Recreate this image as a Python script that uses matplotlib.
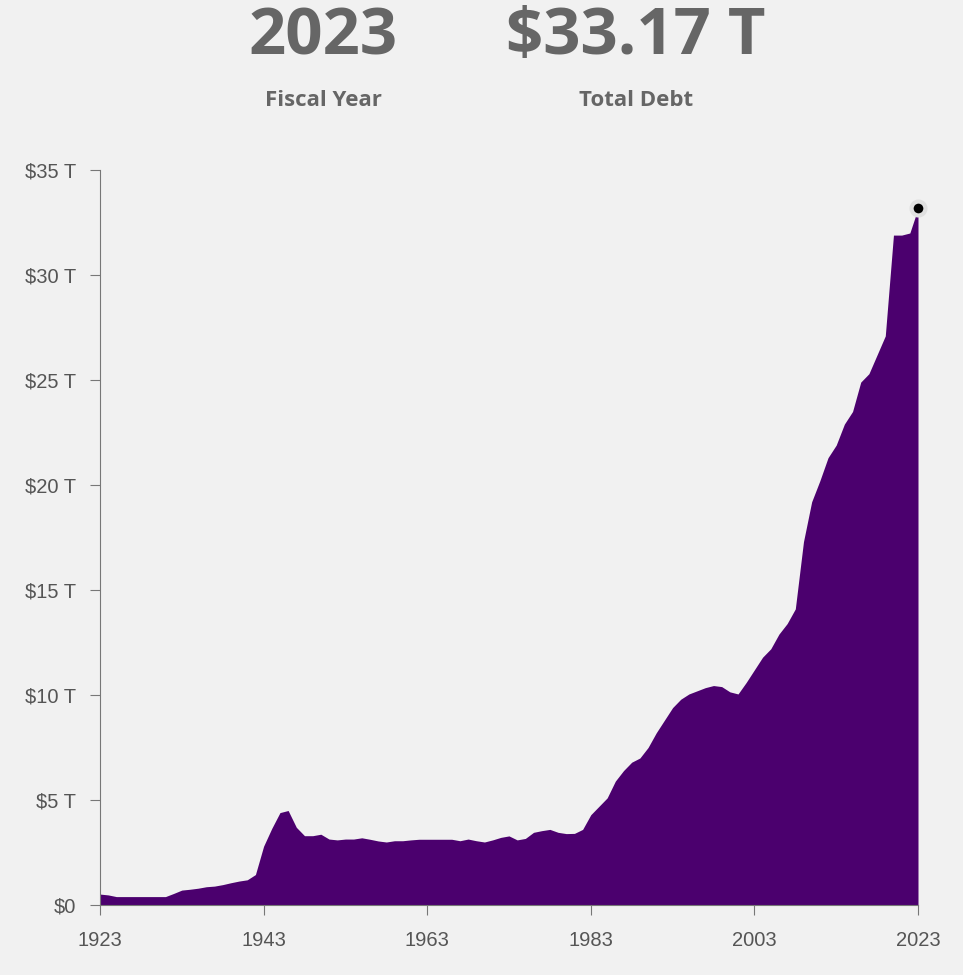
import matplotlib
matplotlib.use("Agg")
import matplotlib.pyplot as plt
import numpy as np

# Total debt by fiscal year, trillions of dollars
years = np.arange(1923, 2024)
debt = [
    0.52, 0.48, 0.40, 0.40, 0.40, 0.40, 0.40, 0.40, 0.40, 0.55,   # 1923-1932
    0.71, 0.75, 0.80, 0.87, 0.90, 0.97, 1.06, 1.14, 1.20, 1.45,   # 1933-1942
    2.80, 3.65, 4.40, 4.50, 3.70, 3.30, 3.30, 3.37, 3.14, 3.10,   # 1943-1952
    3.14, 3.14, 3.20, 3.13, 3.05, 3.00, 3.06, 3.06, 3.10, 3.13,   # 1953-1962
    3.13, 3.13, 3.13, 3.13, 3.06, 3.14, 3.06, 3.00, 3.10, 3.22,   # 1963-1972
    3.29, 3.10, 3.17, 3.46, 3.54, 3.60, 3.46, 3.40, 3.41, 3.60,   # 1973-1982
    4.30, 4.70, 5.10, 5.90, 6.40, 6.80, 7.00, 7.50, 8.20, 8.80,   # 1983-1992
    9.40, 9.80, 10.05, 10.20, 10.35, 10.45, 10.40, 10.15, 10.05, 10.60,  # 1993-2002
    11.20, 11.80, 12.20, 12.90, 13.40, 14.10, 17.30, 19.20, 20.20, 21.30,  # 2003-2012
    21.90, 22.90, 23.50, 24.90, 25.30, 26.20, 27.10, 31.90, 31.90, 32.00,  # 2013-2022
    33.17,                                                        # 2023
]
x_ticks = [1923, 1943, 1963, 1983, 2003, 2023]
y_ticks = [0, 5, 10, 15, 20, 25, 30, 35]
y_labels = ["$0"] + [f"${v} T" for v in y_ticks[1:]]

BG = "#f1f1f1"
FILL = "#4b006e"
HEAD = "#666666"
AXIS = "#777777"

fig = plt.figure(figsize=(9.63, 9.75), dpi=100, facecolor=BG)
ax = fig.add_axes([100 / 963, 70 / 975, 818 / 963, 735 / 975])
ax.set_facecolor(BG)

ax.fill_between(years, 0, debt, color=FILL, lw=0)
ax.plot(years[-1], debt[-1], "o", color="black", ms=10, zorder=5, clip_on=False,
        markeredgecolor="#e0e0e0", markeredgewidth=3)

ax.set_xlim(1923, 2023)
ax.set_ylim(0, 35)
ax.set_xticks(x_ticks)
ax.set_yticks(y_ticks)
ax.set_yticklabels(y_labels)
for s in ["top", "right"]:
    ax.spines[s].set_visible(False)
for s in ["left", "bottom"]:
    ax.spines[s].set_color(AXIS)
ax.tick_params(colors=AXIS, labelcolor="#555555", labelsize=14.5, length=7)
ax.tick_params(axis="x", pad=12)
ax.tick_params(axis="y", pad=10)
for lbl in ax.get_xticklabels() + ax.get_yticklabels():
    lbl.set_family("Liberation Sans")

# header
fig.text(323 / 963, 1 - 38 / 975, "2023", ha="center", va="center",
         fontsize=47, fontweight="bold", color=HEAD, family="Open Sans")
fig.text(323 / 963, 1 - 100 / 975, "Fiscal Year", ha="center", va="center",
         fontsize=16, fontweight="bold", color=HEAD, family="Open Sans")
fig.text(636 / 963, 1 - 38 / 975, "$33.17 T", ha="center", va="center",
         fontsize=47, fontweight="bold", color=HEAD, family="Open Sans")
fig.text(636 / 963, 1 - 100 / 975, "Total Debt", ha="center", va="center",
         fontsize=16, fontweight="bold", color=HEAD, family="Open Sans")

fig.savefig("out.png", dpi=100, facecolor=BG)
